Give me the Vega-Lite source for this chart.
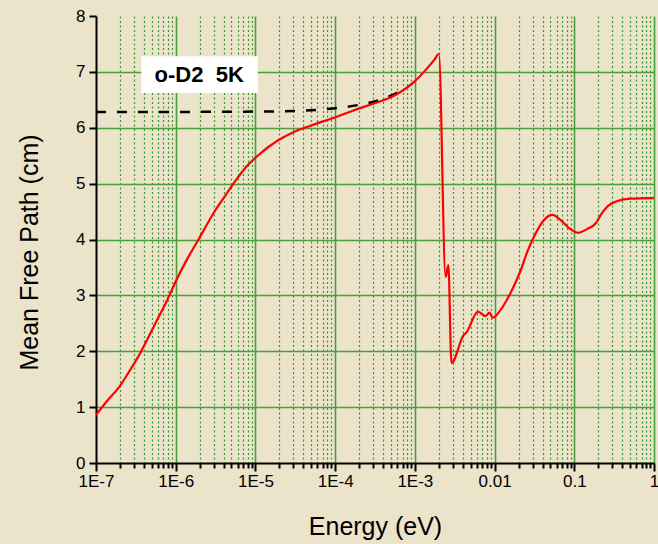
{
  "$schema": "https://vega.github.io/schema/vega-lite/v6.json",
  "width": 558,
  "height": 447,
  "autosize": {"type": "none"},
  "padding": {"left": 96, "top": 16, "right": 4, "bottom": 81},
  "background": "#ebe3ca",
  "config": {
    "view": {"stroke": null},
    "font": "Liberation Sans",
    "axis": {
      "labelFont": "Liberation Sans",
      "titleFont": "Liberation Sans",
      "labelFontSize": 17,
      "titleFontSize": 25,
      "titleFontWeight": "normal",
      "labelColor": "#000000",
      "titleColor": "#000000",
      "domainColor": "#000000",
      "domainWidth": 2,
      "tickColor": "#000000",
      "tickWidth": 2
    }
  },
  "datasets": {
    "curve": [
      {"E": 1e-7, "mfp": 0.86},
      {"E": 1.36e-7, "mfp": 1.1},
      {"E": 2e-7, "mfp": 1.38},
      {"E": 2.67e-7, "mfp": 1.66},
      {"E": 3.57e-7, "mfp": 1.96},
      {"E": 4.54e-7, "mfp": 2.25},
      {"E": 5.8e-7, "mfp": 2.55},
      {"E": 7.73e-7, "mfp": 2.9},
      {"E": 1e-6, "mfp": 3.25},
      {"E": 1.38e-6, "mfp": 3.64},
      {"E": 1.93e-6, "mfp": 4.0},
      {"E": 2.98e-6, "mfp": 4.47},
      {"E": 3.98e-6, "mfp": 4.74},
      {"E": 5.3e-6, "mfp": 5.0},
      {"E": 7.45e-6, "mfp": 5.28},
      {"E": 1.05e-5, "mfp": 5.49},
      {"E": 1.95e-5, "mfp": 5.78},
      {"E": 3e-5, "mfp": 5.92},
      {"E": 5e-5, "mfp": 6.04},
      {"E": 1.07e-4, "mfp": 6.2},
      {"E": 1.7e-4, "mfp": 6.31},
      {"E": 3e-4, "mfp": 6.43},
      {"E": 4.9e-4, "mfp": 6.54},
      {"E": 6.6e-4, "mfp": 6.64},
      {"E": 9.8e-4, "mfp": 6.82},
      {"E": 1.3e-3, "mfp": 7.0},
      {"E": 1.74e-3, "mfp": 7.21},
      {"E": 2.0e-3, "mfp": 7.32},
      {"E": 2.43e-3, "mfp": 3.33},
      {"E": 2.63e-3, "mfp": 3.54},
      {"E": 2.88e-3, "mfp": 1.79},
      {"E": 4.1e-3, "mfp": 2.29},
      {"E": 4.4e-3, "mfp": 2.33},
      {"E": 6.2e-3, "mfp": 2.71},
      {"E": 7.7e-3, "mfp": 2.63},
      {"E": 8.6e-3, "mfp": 2.69},
      {"E": 9.5e-3, "mfp": 2.6},
      {"E": 0.0119, "mfp": 2.74},
      {"E": 0.0158, "mfp": 3.04},
      {"E": 0.0213, "mfp": 3.45},
      {"E": 0.0257, "mfp": 3.78},
      {"E": 0.0312, "mfp": 4.05},
      {"E": 0.0417, "mfp": 4.35},
      {"E": 0.053, "mfp": 4.44},
      {"E": 0.0708, "mfp": 4.32},
      {"E": 0.09, "mfp": 4.18},
      {"E": 0.112, "mfp": 4.12},
      {"E": 0.146, "mfp": 4.19},
      {"E": 0.186, "mfp": 4.29},
      {"E": 0.215, "mfp": 4.44},
      {"E": 0.26, "mfp": 4.59},
      {"E": 0.347, "mfp": 4.69},
      {"E": 0.51, "mfp": 4.73},
      {"E": 1, "mfp": 4.74}
    ],
    "fit": [
      {"E": 1e-7, "mfp": 6.28},
      {"E": 1e-5, "mfp": 6.29},
      {"E": 3e-5, "mfp": 6.3},
      {"E": 1e-4, "mfp": 6.35},
      {"E": 2e-4, "mfp": 6.41},
      {"E": 3.7e-4, "mfp": 6.5},
      {"E": 6.9e-4, "mfp": 6.67},
      {"E": 7.6e-4, "mfp": 6.7}
    ],
    "label": [
      {"x1": 3.7e-7, "x2": 1.07e-5, "y1": 6.62, "y2": 7.28, "xt": 1.97e-6, "yt": 6.95, "text": "o-D2\u00a0 5K"}
    ]
  },
  "layer": [
    {
      "data": {"name": "curve"},
      "mark": {"type": "line", "color": "#ff0000", "strokeWidth": 0, "opacity": 0},
      "encoding": {
        "x": {
          "field": "E", "type": "quantitative",
          "scale": {"type": "log", "domain": [1e-7, 1], "nice": false},
          "axis": {
            "title": "Energy (eV)",
            "titleY": 71,
            "titleBaseline": "alphabetic",
            "values": [1e-7,2e-7,3e-7,4e-7,5e-7,6e-7,7e-7,8e-7,9e-7,
                       1e-6,2e-6,3e-6,4e-6,5e-6,6e-6,7e-6,8e-6,9e-6,
                       1e-5,2e-5,3e-5,4e-5,5e-5,6e-5,7e-5,8e-5,9e-5,
                       1e-4,2e-4,3e-4,4e-4,5e-4,6e-4,7e-4,8e-4,9e-4,
                       1e-3,2e-3,3e-3,4e-3,5e-3,6e-3,7e-3,8e-3,9e-3,
                       0.01,0.02,0.03,0.04,0.05,0.06,0.07,0.08,0.09,
                       0.1,0.2,0.3,0.4,0.5,0.6,0.7,0.8,0.9,1],
            "labelExpr": "abs(log(datum.value)/LN10 - round(log(datum.value)/LN10)) < 0.01 ? (datum.value < 0.005 ? '1E' + round(log(datum.value)/LN10) : '' + datum.value) : ''",
            "labelOverlap": false,
            "labelFlush": false,
            "labelPadding": 2,
            "tickSize": {"condition": {"test": "abs(log(datum.value)/LN10 - round(log(datum.value)/LN10)) < 0.01", "value": 8}, "value": 5},
            "grid": true,
            "gridColor": {"condition": {"test": "abs(log(datum.value)/LN10 - round(log(datum.value)/LN10)) < 0.01", "value": "#4a9f3a"}, "value": "#2f9a2f"},
            "gridDash": {"condition": {"test": "abs(log(datum.value)/LN10 - round(log(datum.value)/LN10)) < 0.01", "value": []}, "value": [2, 2.5]},
            "gridWidth": {"condition": {"test": "abs(log(datum.value)/LN10 - round(log(datum.value)/LN10)) < 0.01", "value": 1.6}, "value": 1.2},
            "gridOpacity": {"condition": {"test": "datum.value <= 1.5e-7", "value": 0}, "value": 1}
          }
        },
        "y": {
          "field": "mfp", "type": "quantitative",
          "scale": {"domain": [0, 8], "nice": false},
          "axis": {
            "title": "Mean Free Path (cm)",
            "titleAngle": -90,
            "titleX": -59,
            "titleY": 236,
            "titleAlign": "center",
            "titleBaseline": "alphabetic",
            "values": [0,0.5,1,1.5,2,2.5,3,3.5,4,4.5,5,5.5,6,6.5,7,7.5,8],
            "labelExpr": "datum.value % 1 == 0 ? '' + datum.value : ''",
            "labelOverlap": false,
            "labelFlush": false,
            "labelPadding": 4,
            "tickSize": 7,
            "grid": true,
            "gridColor": {"condition": {"test": "datum.value % 1 == 0", "value": "#4a9f3a"}, "value": "#2f9a2f"},
            "gridDash": {"condition": {"test": "datum.value % 1 == 0", "value": []}, "value": [2, 2.5]},
            "gridWidth": {"condition": {"test": "datum.value % 1 == 0", "value": 1.6}, "value": 1.2},
            "gridOpacity": {"condition": {"test": "datum.value == 0 || datum.value == 8", "value": 0}, "value": 1}
          }
        }
      }
    },
    {
      "data": {"name": "fit"},
      "mark": {"type": "line", "color": "#000000", "strokeWidth": 2.5, "strokeDash": [10, 11], "interpolate": "monotone"},
      "encoding": {
        "x": {"field": "E", "type": "quantitative"},
        "y": {"field": "mfp", "type": "quantitative"}
      }
    },
    {
      "data": {"name": "curve"},
      "mark": {"type": "line", "color": "#ff0000", "strokeWidth": 2.2, "clip": true, "interpolate": "monotone"},
      "encoding": {
        "x": {"field": "E", "type": "quantitative"},
        "y": {"field": "mfp", "type": "quantitative"}
      }
    },
    {
      "data": {"name": "label"},
      "mark": {"type": "rect", "fill": "#ffffff", "stroke": null},
      "encoding": {
        "x": {"field": "x1", "type": "quantitative"},
        "x2": {"field": "x2"},
        "y": {"field": "y1", "type": "quantitative"},
        "y2": {"field": "y2"}
      }
    },
    {
      "data": {"name": "label"},
      "mark": {"type": "text", "font": "Liberation Sans", "fontWeight": "bold", "fontSize": 22, "align": "center", "baseline": "middle", "color": "#000000"},
      "encoding": {
        "x": {"field": "xt", "type": "quantitative"},
        "y": {"field": "yt", "type": "quantitative"},
        "text": {"field": "text"}
      }
    }
  ]
}
